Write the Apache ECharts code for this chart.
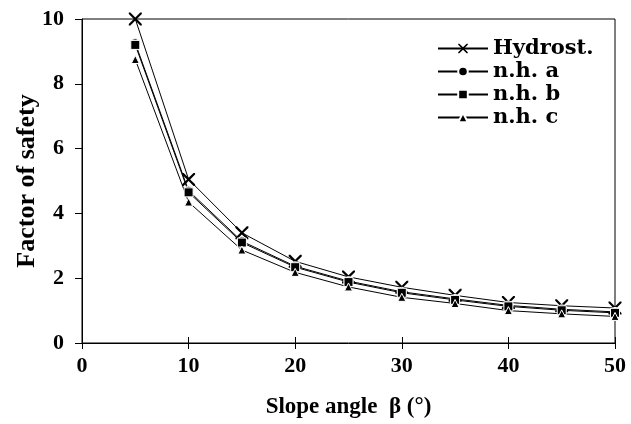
<!DOCTYPE html>
<html>
<head>
<meta charset="utf-8">
<script src="https://cdn.jsdelivr.net/npm/echarts@6/dist/echarts.min.js"></script>
<style>
  html, body { margin: 0; padding: 0; background: #fff; }
  #chart { width: 631px; height: 424px; }
</style>
</head>
<body>
<div id="chart"></div>
<script>
// slope angles (deg)
const angles = [5, 10, 15, 20, 25, 30, 35, 40, 45, 50];
// factor of safety
const hydrost = [10.0, 5.05, 3.4, 2.52, 2.04, 1.72, 1.47, 1.25, 1.15, 1.08];
const nhA = [9.25, 4.7, 3.14, 2.37, 1.91, 1.58, 1.36, 1.16, 1.04, 0.96];
const nhB = [9.2, 4.65, 3.1, 2.34, 1.88, 1.55, 1.33, 1.13, 1.01, 0.93];
const nhC = [8.75, 4.35, 2.87, 2.18, 1.73, 1.41, 1.22, 1.0, 0.9, 0.82];
const xTicks = [0, 10, 20, 30, 40, 50];
const yTicks = [0, 2, 4, 6, 8, 10];

const FONT = 'Liberation Serif';
const crossPath = 'path://M0,0L1.2,0L5,3.8L8.8,0L10,0L10,1.2L6.2,5L10,8.8L10,10L8.8,10L5,6.2L1.2,10L0,10L0,8.8L3.8,5L0,1.2Z';

function pairs(vals) {
  return angles.map((a, i) => [a, vals[i]]);
}

function makeSeries(name, vals, symbol, size, border) {
  return {
    name: name,
    type: 'line',
    data: pairs(vals),
    symbol: symbol,
    symbolSize: size,
    showAllSymbol: true,
    lineStyle: { color: '#000', width: 1 },
    itemStyle: { color: '#000', borderColor: '#fff', borderWidth: border },
    emphasis: { disabled: true },
    animation: false
  };
}

const chart = echarts.init(document.getElementById('chart'));
chart.setOption({
  backgroundColor: '#fff',
  grid: {
    left: 82, right: 16, top: 19, bottom: 81,
    outerBoundsMode: 'none',
    show: true, borderColor: '#000', borderWidth: 1
  },
  legend: {
    left: 432, top: 33,
    orient: 'vertical',
    itemWidth: 50, itemHeight: 12, itemGap: 2,
    textStyle: { fontFamily: 'DejaVu Serif', fontWeight: 'bold', fontSize: 21, color: '#000' },
    data: ['Hydrost.', 'n.h. a', 'n.h. b', 'n.h. c']
  },
  xAxis: [
    {
      type: 'value', min: 0, max: 50, interval: 10,
      name: 'Slope angle  β (°)',
      nameLocation: 'middle', nameGap: 53, nameMoveOverlap: false,
      nameTextStyle: { fontFamily: FONT, fontWeight: 'bold', fontSize: 23, color: '#000' },
      axisLine: { onZero: false, lineStyle: { color: '#000', width: 1 } },
      axisTick: { show: true, inside: false, length: 6, lineStyle: { color: '#000' } },
      axisLabel: {
        margin: 12, fontFamily: FONT, fontWeight: 'bold', fontSize: 22, color: '#000',
        formatter: v => xTicks.includes(v) ? String(v) : ''
      },
      splitLine: { show: false }
    },
    {
      type: 'value', min: 0, max: 50, interval: 10, position: 'bottom', offset: 0,
      axisLine: { show: false },
      axisTick: { show: true, inside: true, length: 6, lineStyle: { color: '#000' } },
      axisLabel: { show: false },
      splitLine: { show: false }
    }
  ],
  yAxis: {
    type: 'value', min: 0, max: 10, interval: 2,
    name: 'Factor of safety',
    nameLocation: 'middle', nameGap: 42, nameMoveOverlap: false,
    nameTextStyle: { fontFamily: FONT, fontWeight: 'bold', fontSize: 26, color: '#000' },
    axisLine: { show: true, onZero: false, lineStyle: { color: '#000', width: 1 } },
    axisTick: { show: true, inside: false, length: 7, lineStyle: { color: '#000' } },
    axisLabel: {
      margin: 18, fontFamily: FONT, fontWeight: 'bold', fontSize: 22, color: '#000',
      formatter: v => yTicks.includes(v) ? String(v) : ''
    },
    splitLine: { show: false }
  },
  series: [
    makeSeries('Hydrost.', hydrost, crossPath, 13, 0),
    makeSeries('n.h. a', nhA, 'circle', 9, 1),
    makeSeries('n.h. b', nhB, 'rect', 9, 1),
    makeSeries('n.h. c', nhC, 'triangle', 8, 1)
  ]
});
</script>
</body>
</html>
